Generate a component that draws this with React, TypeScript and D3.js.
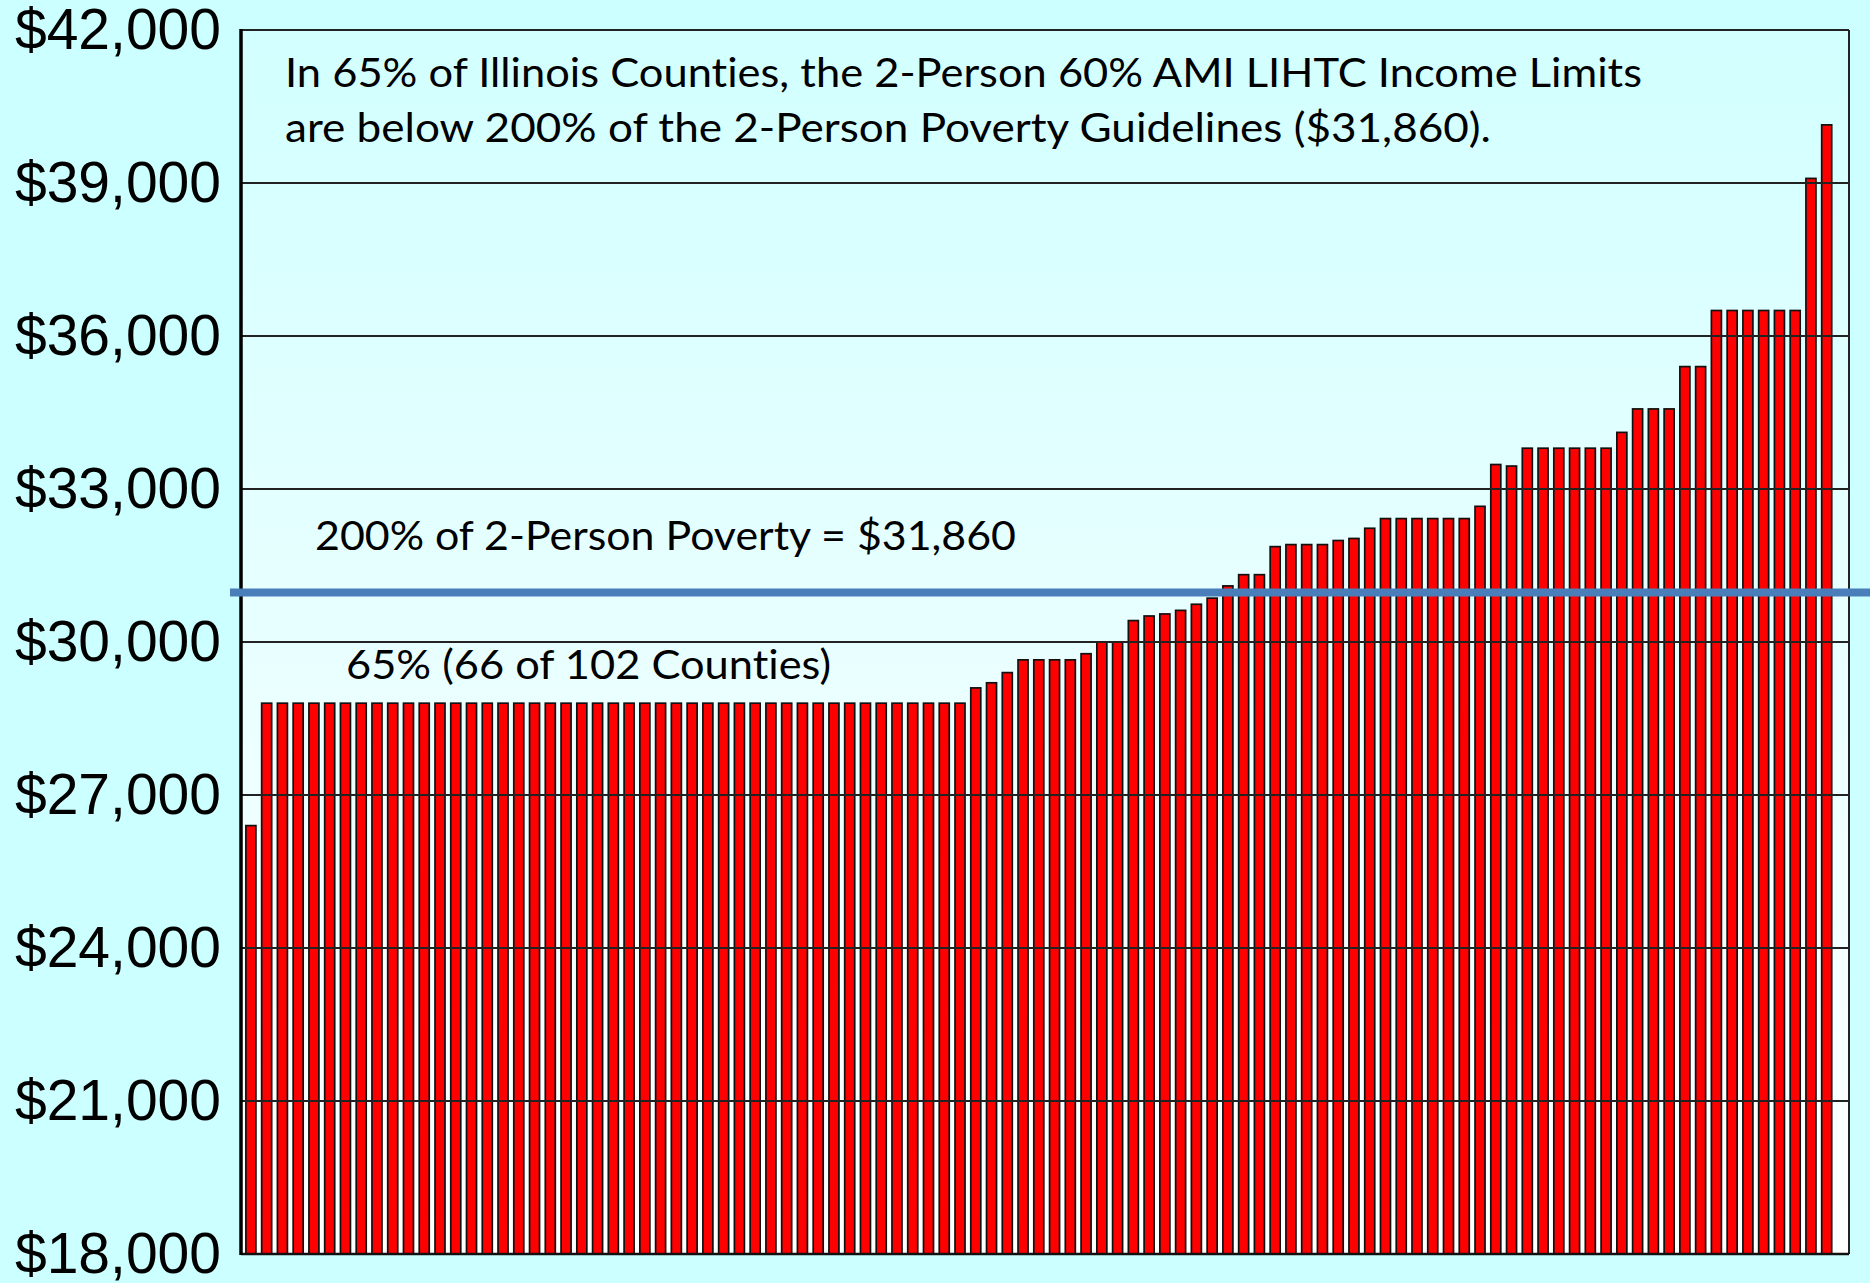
import React from "react";
import * as d3 from "d3";

// 2-person 60% AMI LIHTC income limits, Illinois counties, sorted ascending
const values: number[] = [
  26400,
  28800, 28800, 28800, 28800, 28800, 28800, 28800, 28800, 28800, 28800,
  28800, 28800, 28800, 28800, 28800, 28800, 28800, 28800, 28800, 28800,
  28800, 28800, 28800, 28800, 28800, 28800, 28800, 28800, 28800, 28800,
  28800, 28800, 28800, 28800, 28800, 28800, 28800, 28800, 28800, 28800,
  28800, 28800, 28800, 28800, 28800,
  29100, 29200, 29400, 29650, 29650, 29650, 29650, 29770, 30000, 30000,
  30420, 30510, 30550, 30620, 30740, 30860, 31100, 31320, 31320, 31870,
  31910, 31910, 31910, 31990, 32030, 32230, 32420, 32420, 32420, 32420,
  32420, 32420, 32660, 33480, 33450, 33800, 33800, 33800, 33800, 33800,
  33800, 34110, 34570, 34570, 34570, 35400, 35400, 36500, 36500, 36500,
  36500, 36500, 36500, 39090, 40140,
];
const categories: number[] = values.map((_, i) => i);

const yTicks: number[] = [18000, 21000, 24000, 27000, 30000, 33000, 36000, 39000, 42000];
const yDomain: [number, number] = [18000, 42000];

// the blue reference line as placed in the picture
const povertyLineDrawnAt = 30970;
const povertyLabel = "200% of 2-Person Poverty = $31,860";
const shareLabel = "65% (66 of 102 Counties)";
const headline: string[] = [
  "In 65% of Illinois Counties, the 2-Person 60% AMI LIHTC Income Limits",
  "are below 200% of the 2-Person Poverty Guidelines ($31,860).",
];

const W = 1870;
const H = 1283;
const plot = { left: 241, right: 1849, top: 30, bottom: 1254 };

export default function App() {
  const y = d3.scaleLinear().domain(yDomain).range([plot.bottom, plot.top]);
  const step = 15.758;
  const pIn = 0.365;
  const pOut = 0.17;
  const x0 = 245.9 - pOut * step;
  const x1 = x0 + step * (categories.length - pIn + 2 * pOut);
  const x = d3
    .scaleBand<number>()
    .domain(categories)
    .range([x0, x1])
    .paddingInner(pIn)
    .paddingOuter(pOut);
  const fmt = (v: number) => "$" + d3.format(",")(v);
  const annFont = "Lato, 'Open Sans', sans-serif";
  const annStyle = { fontVariantLigatures: "none" as const };

  return (
    <svg
      width={W}
      height={H}
      style={{ position: "absolute", left: 0, top: 0, display: "block" }}
    >
      <defs>
        <linearGradient id="plotbg" x1="0" y1="0" x2="0" y2="1">
          <stop offset="0%" stopColor="#D2FFFF" />
          <stop offset="100%" stopColor="#FFFFFF" />
        </linearGradient>
      </defs>
      <rect x={0} y={0} width={W} height={H} fill="#CCFFFF" />
      <rect
        x={plot.left}
        y={plot.top}
        width={plot.right - plot.left}
        height={plot.bottom - plot.top}
        fill="url(#plotbg)"
      />
      {/* bars */}
      {values.map((v, i) => (
        <rect
          key={i}
          x={x(i)!}
          y={y(v)}
          width={x.bandwidth()}
          height={y(yDomain[0]) - y(v)}
          fill="#FF0000"
          stroke="#111"
          strokeWidth={1.7}
        />
      ))}
      {/* gridlines */}
      {yTicks.map((t) => (
        <line
          key={t}
          x1={plot.left}
          x2={plot.right}
          y1={y(t)}
          y2={y(t)}
          stroke="#222"
          strokeWidth={1.8}
        />
      ))}
      {/* frame */}
      <line x1={plot.right} x2={plot.right} y1={plot.top} y2={plot.bottom} stroke="#222" strokeWidth={2} />
      <line x1={plot.left} x2={plot.right} y1={plot.bottom} y2={plot.bottom} stroke="#111" strokeWidth={2.5} />
      <line x1={plot.left} x2={plot.left} y1={plot.top - 1} y2={plot.bottom + 1} stroke="#000" strokeWidth={3.5} />
      {/* y tick labels */}
      {yTicks.map((t) => (
        <text
          key={t}
          x={221}
          y={y(t)}
          dy="0.34em"
          textAnchor="end"
          fontFamily="'Liberation Sans', Arial, sans-serif"
          fontSize={57}
          fill="#000"
        >
          {fmt(t)}
        </text>
      ))}
      {/* poverty line */}
      <line
        x1={230}
        x2={W}
        y1={y(povertyLineDrawnAt)}
        y2={y(povertyLineDrawnAt)}
        stroke="#4A7EBB"
        strokeWidth={8}
      />
      {/* annotations */}
      <text x={285} y={87} fontFamily={annFont} fontSize={40} fill="#000" style={annStyle} textLength={1357} lengthAdjust="spacingAndGlyphs">
        {headline[0]}
      </text>
      <text x={285} y={142} fontFamily={annFont} fontSize={40} fill="#000" style={annStyle} textLength={1206} lengthAdjust="spacingAndGlyphs">
        {headline[1]}
      </text>
      <text x={315} y={550} fontFamily={annFont} fontSize={40} fill="#000" style={annStyle} textLength={701} lengthAdjust="spacingAndGlyphs">
        {povertyLabel}
      </text>
      <text x={346} y={679} fontFamily={annFont} fontSize={40} fill="#000" style={annStyle} textLength={485} lengthAdjust="spacingAndGlyphs">
        {shareLabel}
      </text>
    </svg>
  );
}
